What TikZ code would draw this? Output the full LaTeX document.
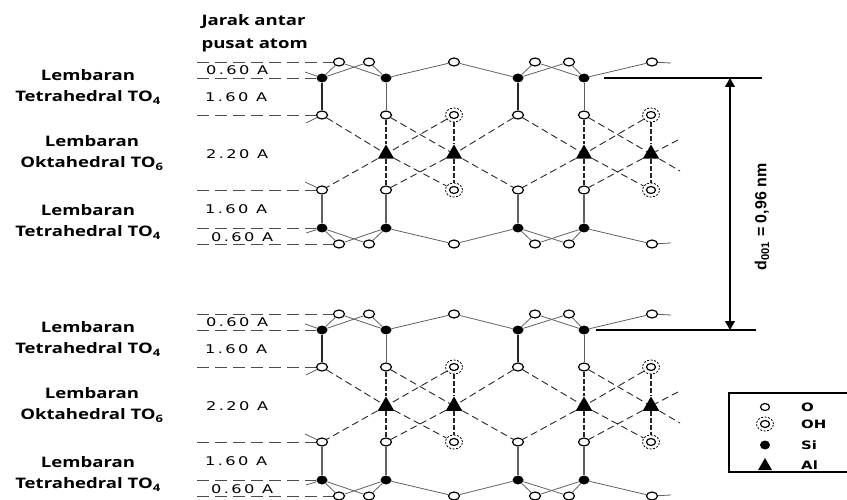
\documentclass[tikz,border=0pt]{standalone}
\usepackage{fontspec}
\usepackage{tikz}
\usetikzlibrary{shapes.geometric,backgrounds,arrows.meta}

\newfontfamily\sheetfont[FakeStretch=1.28]{Open Sans}
\newfontfamily\distfont[FakeStretch=1.35,LetterSpace=20]{DejaVu Sans}
\newfontfamily\keyfont[FakeStretch=1.3]{DejaVu Sans}
\newfontfamily\dimfont{Liberation Sans}

\tikzset{
  oatom/.style={ellipse,draw,line width=1.2pt,fill=white,inner sep=0pt,
    minimum width=11pt,minimum height=8pt},
  ohatom/.style={ellipse,draw,line width=0.8pt,dash pattern=on 2pt off 1.5pt,
    fill=white,inner sep=0pt,minimum width=17pt,minimum height=14pt,
    path picture={\draw[solid,line width=1.2pt]
      (path picture bounding box.center) ellipse (4.5pt and 3.5pt);}},
  siatom/.style={ellipse,fill=black,inner sep=0pt,minimum width=11pt,minimum height=9pt},
  alatom/.style={regular polygon,regular polygon sides=3,fill=black,inner sep=0pt,
    minimum size=19pt},
  tet/.style={gray!75!black,line width=0.8pt},
  tetbold/.style={black!85,line width=1.5pt},
  okt/.style={gray!30!black,line width=0.9pt,dash pattern=on 7pt off 4pt},
  oktv/.style={gray!30!black,line width=1.4pt,dash pattern=on 5pt off 2pt},
  guide/.style={gray!60!black,line width=0.8pt,dash pattern=on 12pt off 6pt},
  sheet/.style={font=\sheetfont\bfseries\fontsize{14.5}{21}\selectfont,align=center},
  dist/.style={font=\distfont\fontsize{12}{14}\selectfont,inner sep=0pt},
  keytext/.style={font=\keyfont\bfseries\fontsize{11.5}{13}\selectfont,inner sep=0pt},
  dimline/.style={black,line width=1.3pt},
  dimtext/.style={font=\dimfont\bfseries\fontsize{16}{18}\selectfont}
}

\begin{document}
\begin{tikzpicture}[x=1pt,y=-1pt]
\useasboundingbox (0,0) rectangle (847,500);

% Column heading
\node[sheet,anchor=west] (head1) at (198,22) {Jarak antar};
\node[sheet,anchor=west] (head2) at (198,45) {pusat atom};

% Two identical T-O-T layers
\foreach \l/\oy in {1/0,2/252}{
\begin{scope}[shift={(0,\oy)}]

% Upper tetrahedral sheet
\foreach \i/\x in {1/339,2/369,3/454,4/535,5/569,6/652}
  \node[oatom] (ot\i-\l) at (\x,62) {};
\foreach \i/\x in {1/322,2/386,3/518,4/584}
  \node[siatom] (st\i-\l) at (\x,78) {};

% Apical oxygen / hydroxyl
\foreach \i/\x/\s in {1/322/oatom,2/386/oatom,3/454/ohatom,4/518/oatom,5/584/oatom,6/651/ohatom}{
  \node[\s] (pu\i-\l) at (\x,115) {};
  \node[\s] (pl\i-\l) at (\x,190) {};
}

% Octahedral aluminium
\foreach \i/\x in {1/386,2/454,3/584,4/651}
  \node[alatom] (al\i-\l) at (\x,154) {};

% Lower tetrahedral sheet
\foreach \i/\x in {1/322,2/386,3/518,4/584}
  \node[siatom] (sb\i-\l) at (\x,228) {};
\foreach \i/\x in {1/339,2/369,3/454,4/535,5/569,6/652}
  \node[oatom] (ob\i-\l) at (\x,244) {};

% Free ends
\coordinate (sts-\l) at (305,72);
\coordinate (ots-\l) at (671,63);
\coordinate (pus-\l) at (306,123);
\coordinate (pls-\l) at (305,182);
\coordinate (sbs-\l) at (306,233);
\coordinate (obs-\l) at (671,243);
\coordinate (okr1-\l) at (680,171);
\coordinate (okr2-\l) at (678,140);

% Guide lines
\foreach \i/\y in {1/62,2/78,3/115,4/190,5/228,6/244}
  \coordinate (g\i-\l) at (197,\y);

\begin{scope}[on background layer]
\draw[guide] (g1-\l) -- (ot1-\l);
\draw[guide] (g2-\l) -- (st1-\l);
\draw[guide] (g3-\l) -- (pu1-\l);
\draw[guide] (g4-\l) -- (pl1-\l);
\draw[guide] (g5-\l) -- (sb1-\l);
\draw[guide] (g6-\l) -- (ob1-\l);

% Si-O bonds
\foreach \a/\b in {st1/ot1,st1/ot2,st2/ot1,st2/ot2,st2/ot3,st3/ot3,st3/ot4,st3/ot5,st4/ot4,st4/ot5,st4/ot6,ot6/ots,st1/sts}
  \draw[tet] (\a-\l) -- (\b-\l);
\foreach \a/\b in {sb1/ob1,sb1/ob2,sb2/ob1,sb2/ob2,sb2/ob3,sb3/ob3,sb3/ob4,sb3/ob5,sb4/ob4,sb4/ob5,sb4/ob6,ob6/obs,sb1/sbs}
  \draw[tet] (\a-\l) -- (\b-\l);
\draw[tetbold] (st1-\l) -- (pu1-\l);
\draw[tet] (st2-\l) -- (pu2-\l);
\draw[tetbold] (st3-\l) -- (pu4-\l);
\draw[tet] (st4-\l) -- (pu5-\l);
\draw[tet] (pu1-\l) -- (pus-\l);
\draw[tet] (pl1-\l) -- (pls-\l);
\foreach \a/\b in {pl1/sb1,pl2/sb2,pl4/sb3,pl5/sb4}
  \draw[tet,line width=1.1pt] (\a-\l) -- (\b-\l);

% Al-O bonds
\foreach \a/\m/\b in {pu1/al1/pl3,pu2/al2/pl4,pu3/al1/pl1,pu4/al2/pl2,pu4/al3/pl6,pu5/al4/okr1,pu6/al3/pl4,okr2/al4/pl5}
  \draw[okt] (\a-\l) -- (\m-\l) -- (\b-\l);
\foreach \a/\m/\b in {pu2/al1/pl2,pu3/al2/pl3,pu5/al3/pl5,pu6/al4/pl6}
  \draw[oktv] (\a-\l) -- (\m-\l) -- (\b-\l);
\end{scope}

% Distances between atom planes
\node[dist,anchor=west] (dd1-\l) at (206,70) {0.60 A};
\node[dist,anchor=west] (dd2-\l) at (205,97) {1.60 A};
\node[dist,anchor=west] (dd3-\l) at (206,154) {2.20 A};
\node[dist,anchor=west] (dd4-\l) at (205,209) {1.60 A};
\node[dist,anchor=west] (dd5-\l) at (211,237) {0.60 A};

% Sheet names
\node[sheet] (tet1-\l) at (88,87) {Lembaran\\Tetrahedral TO\textsubscript{4}};
\node[sheet] (okt-\l) at (92,153) {Lembaran\\Oktahedral TO\textsubscript{6}};
\node[sheet] (tet2-\l) at (88,222) {Lembaran\\Tetrahedral TO\textsubscript{4}};

\end{scope}
}

% Basal spacing
\coordinate (dimt) at (762,78);
\coordinate (dimb) at (756,330);
\coordinate (arrt) at (730,78);
\coordinate (arrb) at (730,330);
\draw[dimline] (st4-1.east) ++(14,0) -- (dimt);
\draw[dimline] (st4-2.east) ++(6,0) -- (dimb);
\draw[dimline,{Triangle[width=10pt,length=9pt]}-{Triangle[width=10pt,length=9pt]}] (arrt) -- (arrb);
\node[dimtext,rotate=90] (dval) at (762,217) {d\textsubscript{001} = 0,96 nm};

% Key
\draw[line width=1.6pt] (729,393) rectangle (850,472);
\node[oatom,minimum width=9pt,minimum height=7pt] (ko) at (765,407) {};
\node[ohatom] (koh) at (765,424) {};
\node[siatom,minimum width=10pt,minimum height=9pt] (ksi) at (765,445) {};
\node[alatom,minimum size=16pt] (kal) at (765,466) {};
\node[keytext,anchor=west] (kot) at (801,407) {O};
\node[keytext,anchor=west] (koht) at (801,424) {OH};
\node[keytext,anchor=west] (ksit) at (801,445) {Si};
\node[keytext,anchor=west] (kalt) at (801,465) {Al};

\end{tikzpicture}
\end{document}
